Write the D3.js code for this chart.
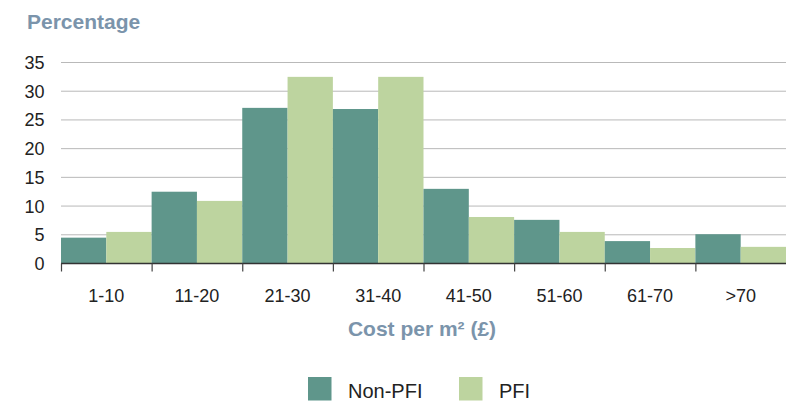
<!DOCTYPE html>
<html>
<head>
<meta charset="utf-8">
<script src="https://cdn.jsdelivr.net/npm/d3@7"></script>
<style>
  html, body { margin: 0; padding: 0; background: #fff; }
  svg { display: block; font-family: "Liberation Sans", Arial, Helvetica, sans-serif; }
</style>
</head>
<body>
<svg id="chart" width="786" height="403"></svg>
<script>
// Cost bands (£ per m²)
const categories = ["1-10", "11-20", "21-30", "31-40", "41-50", "51-60", "61-70", ">70"];
// Share of projects in each band (%)
const nonPfi = [4.5, 12.5, 27.1, 26.9, 13.0, 7.6, 3.9, 5.1];
const pfi    = [5.5, 10.9, 32.5, 32.5, 8.1, 5.5, 2.7, 2.9];
const seriesNames = ["Non-PFI", "PFI"];
const yTicks = [0, 5, 10, 15, 20, 25, 30, 35];

const colors = { "Non-PFI": "#5f968b", "PFI": "#bdd49f" };
const titleColor = "#7b94ab";

const svg = d3.select("#chart");
const margin = { left: 61, right: 0, top: 62.5, bottom: 139.5 };
const W = 786, H = 403;
const x0 = margin.left, x1 = W - margin.right;
const yBottom = H - margin.bottom, yTop = margin.top;

const x = d3.scaleBand().domain(categories).range([x0, x1]).padding(0);
const xs = d3.scaleBand().domain(seriesNames).range([0, x.bandwidth()]).padding(0);
const y = d3.scaleLinear().domain([0, 35]).range([yBottom, yTop]);

// gridlines
svg.append("g")
  .selectAll("line")
  .data(yTicks.filter(d => d > 0))
  .join("line")
  .attr("x1", x0).attr("x2", x1)
  .attr("y1", d => y(d)).attr("y2", d => y(d))
  .attr("stroke", "#b9b9b9").attr("stroke-width", 1);

// y tick labels
svg.append("g")
  .selectAll("text")
  .data(yTicks)
  .join("text")
  .attr("x", 44.5)
  .attr("y", d => y(d))
  .attr("dy", "0.36em")
  .attr("text-anchor", "end")
  .attr("font-size", 18)
  .attr("fill", "#222")
  .text(d => d);

// bars
const rows = categories.map((c, i) => ({ cat: c, values: [
  { s: "Non-PFI", v: nonPfi[i] }, { s: "PFI", v: pfi[i] }
]}));

const groups = svg.append("g")
  .selectAll("g")
  .data(rows)
  .join("g")
  .attr("transform", d => `translate(${x(d.cat)},0)`);

groups.selectAll("rect")
  .data(d => d.values)
  .join("rect")
  .attr("x", d => xs(d.s))
  .attr("width", xs.bandwidth())
  .attr("y", d => y(d.v))
  .attr("height", d => y(0) - y(d.v))
  .attr("fill", d => colors[d.s]);

// x axis
const xAxis = svg.append("g").attr("transform", `translate(0,${yBottom})`);
xAxis.append("line")
  .attr("x1", x0).attr("x2", x1)
  .attr("stroke", "#333").attr("stroke-width", 1.5);
xAxis.selectAll("line.tick")
  .data(categories)
  .join("line")
  .attr("class", "tick")
  .attr("x1", d => x(d) + 0.5).attr("x2", d => x(d) + 0.5)
  .attr("y1", 0).attr("y2", 8)
  .attr("stroke", "#444").attr("stroke-width", 1.2);
xAxis.selectAll("text")
  .data(categories)
  .join("text")
  .attr("x", d => x(d) + x.bandwidth() / 2)
  .attr("y", 38)
  .attr("text-anchor", "middle")
  .attr("font-size", 18)
  .attr("fill", "#222")
  .text(d => d);

// titles
svg.append("text")
  .attr("x", 27).attr("y", 29)
  .attr("font-size", 21).attr("font-weight", "bold")
  .attr("fill", titleColor)
  .text("Percentage");

svg.append("text")
  .attr("x", 422).attr("y", 336)
  .attr("text-anchor", "middle")
  .attr("font-size", 21).attr("font-weight", "bold")
  .attr("fill", titleColor)
  .text("Cost per m² (£)");

// legend
const legendItems = [
  { s: "Non-PFI", x: 308 },
  { s: "PFI", x: 459 }
];
const legend = svg.append("g");
legend.selectAll("rect")
  .data(legendItems)
  .join("rect")
  .attr("x", d => d.x).attr("y", 377)
  .attr("width", 23.5).attr("height", 23.5)
  .attr("fill", d => colors[d.s]);
legend.selectAll("text")
  .data(legendItems)
  .join("text")
  .attr("x", d => d.x + 40).attr("y", 397.5)
  .attr("font-size", 20)
  .attr("fill", "#222")
  .text(d => d.s);
</script>
</body>
</html>
